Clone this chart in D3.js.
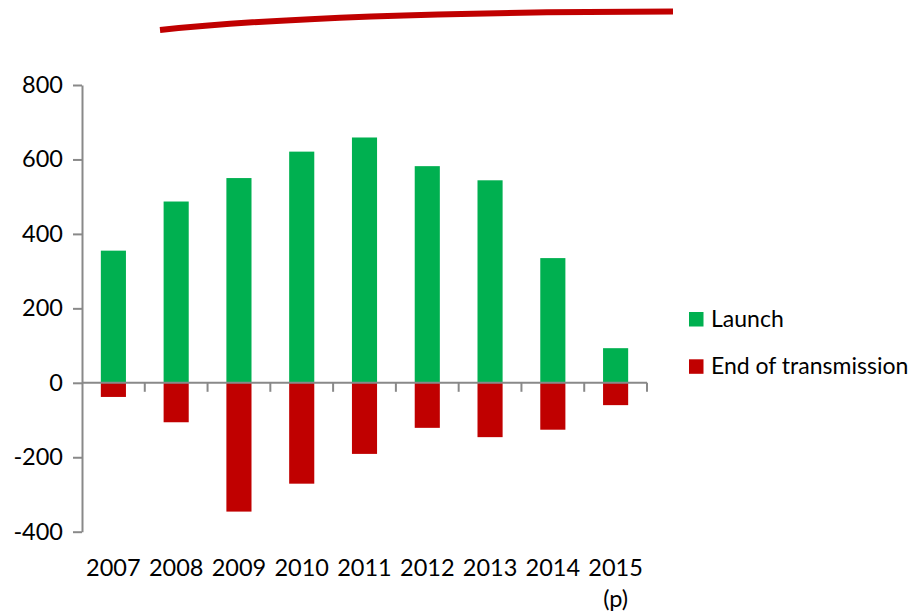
<!DOCTYPE html>
<html>
<head>
<meta charset="utf-8">
<script src="https://cdn.jsdelivr.net/npm/d3@7"></script>
<style>
  body { margin: 0; background: #fff; }
  svg text { font-family: Lato, "Open Sans", sans-serif; fill: #000; }
</style>
</head>
<body>
<svg width="922" height="613"></svg>
<script>
// data
var years = ["2007", "2008", "2009", "2010", "2011", "2012", "2013", "2014", "2015"];
var launch = [355, 487, 550, 621, 659, 582, 544, 335, 93];
var endTransmission = [-38, -106, -346, -271, -191, -121, -146, -126, -60];
var yTicks = [-400, -200, 0, 200, 400, 600, 800];
var seriesNames = ["Launch", "End of transmission"];
var seriesColors = ["#00B050", "#C00000"];

var svg = d3.select("svg");

var x = d3.scaleBand().domain(years).range([82, 647]).paddingInner(0.6).paddingOuter(0.3);
var y = d3.scaleLinear().domain([-400, 800]).range([531.7, 85]);

// decorative stroke at the top
svg.append("path")
    .attr("d", "M160,30 Q330,12 673,11.5")
    .attr("fill", "none")
    .attr("stroke", "#C00000")
    .attr("stroke-width", 6);

// bars
svg.selectAll(".launch")
    .data(launch)
    .enter().append("rect")
    .attr("class", "launch")
    .attr("x", function (d, i) { return x(years[i]); })
    .attr("width", x.bandwidth())
    .attr("y", function (d) { return y(d); })
    .attr("height", function (d) { return y(0) - y(d); })
    .attr("fill", seriesColors[0]);

svg.selectAll(".end")
    .data(endTransmission)
    .enter().append("rect")
    .attr("class", "end")
    .attr("x", function (d, i) { return x(years[i]); })
    .attr("width", x.bandwidth())
    .attr("y", y(0))
    .attr("height", function (d) { return y(d) - y(0); })
    .attr("fill", seriesColors[1]);

// y axis (plain hyphen for negatives, like the original)
var yAxis = svg.append("g")
    .attr("transform", "translate(82,0)")
    .call(d3.axisLeft(y).tickValues(yTicks).tickSize(9).tickSizeOuter(0).tickPadding(10)
      .tickFormat(function (d) { return String(d); }));
yAxis.select(".domain").attr("stroke", "#898989").attr("stroke-width", 2);
yAxis.selectAll(".tick line").attr("stroke", "#898989").attr("stroke-width", 2);
yAxis.selectAll(".tick text").attr("font-size", 23.5).style("font-family", "Lato, sans-serif").attr("fill", "#000");

// x axis at zero
var xAxis = svg.append("g").attr("transform", "translate(0," + y(0) + ")");
xAxis.append("line")
    .attr("x1", 82).attr("x2", 647)
    .attr("stroke", "#898989").attr("stroke-width", 2);
var step = x.step();
xAxis.selectAll(".xt")
    .data(years)
    .enter().append("line")
    .attr("x1", function (d) { return x(d) + x.bandwidth() / 2 + step / 2; })
    .attr("x2", function (d) { return x(d) + x.bandwidth() / 2 + step / 2; })
    .attr("y1", 0).attr("y2", 9)
    .attr("stroke", "#898989").attr("stroke-width", 2);

// category labels along the bottom
svg.selectAll(".xl")
    .data(years)
    .enter().append("text")
    .attr("class", "xl")
    .attr("x", function (d) { return x(d) + x.bandwidth() / 2; })
    .attr("y", 576)
    .attr("text-anchor", "middle")
    .attr("font-size", 23.5)
    .text(function (d) { return d; });
svg.append("text")
    .attr("x", x("2015") + x.bandwidth() / 2)
    .attr("y", 607)
    .attr("text-anchor", "middle")
    .attr("font-size", 23.5)
    .text("(p)");

// legend
var legend = svg.selectAll(".legend")
    .data(seriesNames)
    .enter().append("g")
    .attr("transform", function (d, i) { return "translate(689," + (312 + i * 47.3) + ")"; });
legend.append("rect")
    .attr("width", 14.5).attr("height", 14.5)
    .attr("fill", function (d, i) { return seriesColors[i]; });
legend.append("text")
    .attr("x", 22).attr("y", 15)
    .attr("font-size", 23)
    .text(function (d) { return d; });
</script>
</body>
</html>
